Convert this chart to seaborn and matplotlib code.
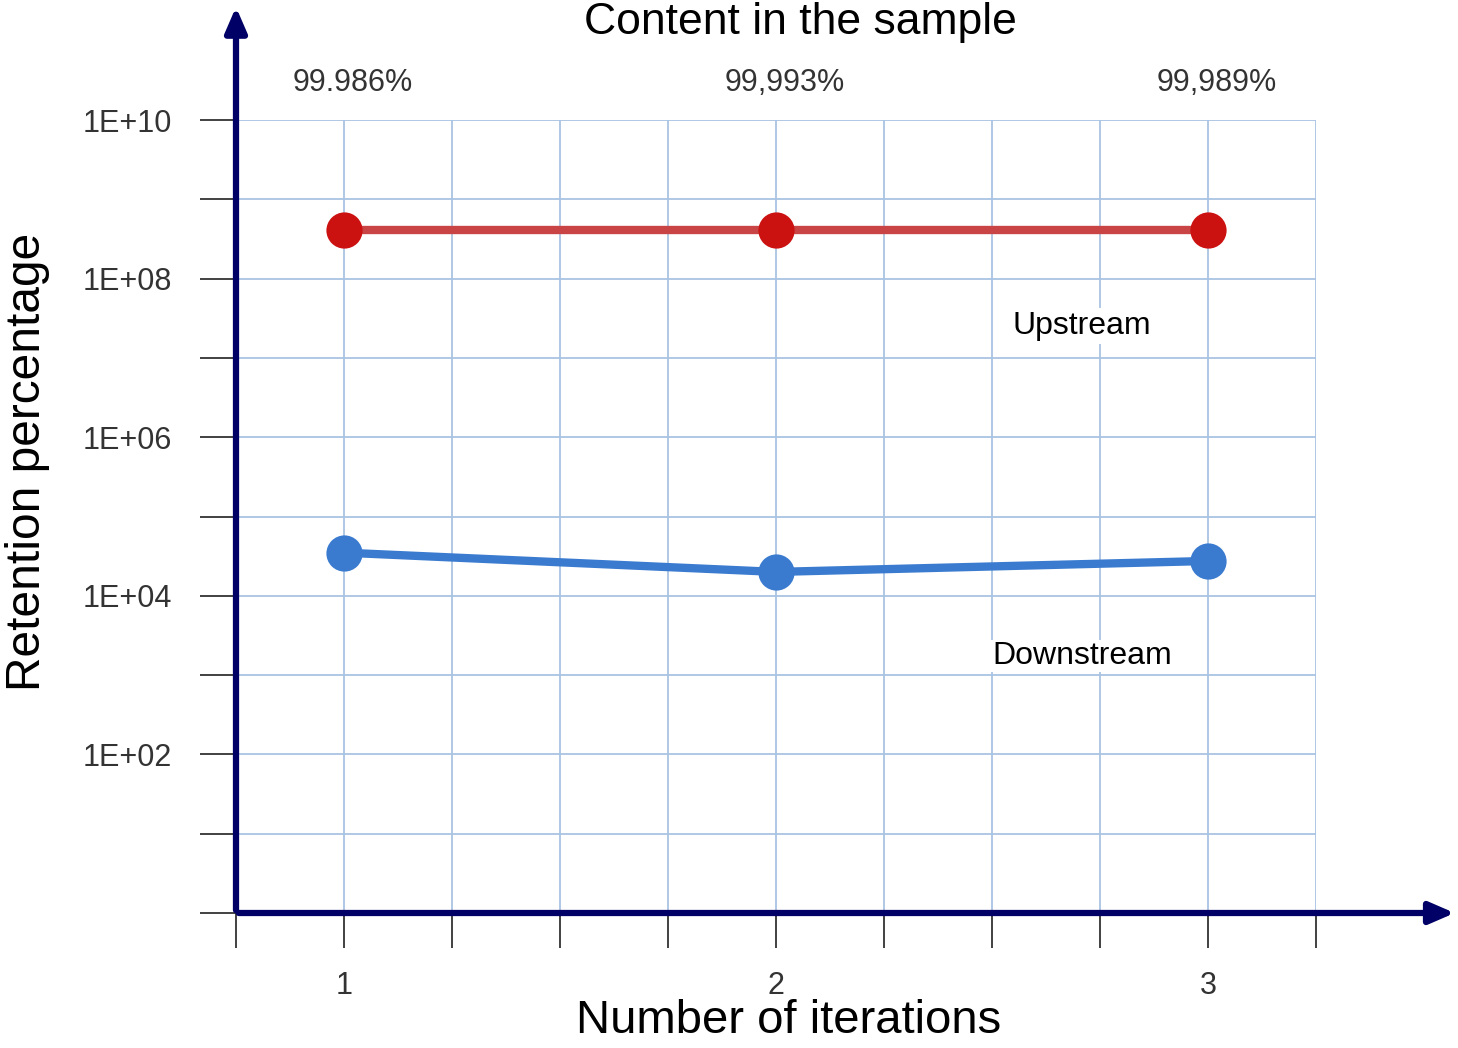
import numpy as np
import pandas as pd
import matplotlib
matplotlib.use("Agg")
import matplotlib.pyplot as plt
import seaborn as sns

# --- data ---
iterations = [1, 2, 3]
upstream = [4.1e8, 4.1e8, 4.1e8]
downstream = [3.5e4, 2.0e4, 2.75e4]
retention_labels = ["99.986%", "99,993%", "99,989%"]
ytick_values = [1e0, 1e1, 1e2, 1e3, 1e4, 1e5, 1e6, 1e7, 1e8, 1e9, 1e10]
ytick_labels = ["", "", "1E+02", "", "1E+04", "", "1E+06", "", "1E+08", "", "1E+10"]
xtick_values = [0.75, 1.0, 1.25, 1.5, 1.75, 2.0, 2.25, 2.5, 2.75, 3.0, 3.25]
xtick_labels = ["", "1", "", "", "", "2", "", "", "", "3", ""]

df = pd.DataFrame({"iteration": iterations * 2,
                   "value": upstream + downstream,
                   "series": ["Upstream"] * 3 + ["Downstream"] * 3})

sns.set_style("white")
plt.rcParams["font.family"] = ["Liberation Sans", "DejaVu Sans"]

W, H = 1458, 1048
fig = plt.figure(figsize=(W / 100, H / 100), dpi=100)
ax = fig.add_axes([236 / W, (H - 913) / H, 1080 / W, 793 / H])

sns.lineplot(data=df, x="iteration", y="value", hue="series",
             palette={"Upstream": "#c94545", "Downstream": "#3a7bd0"},
             linewidth=6, legend=False, ax=ax, zorder=3)
ax.scatter(iterations, upstream, s=680, color="#cc1111", zorder=4, linewidths=0)
ax.scatter(iterations, downstream, s=680, color="#3a7bd0", zorder=4, linewidths=0)

ax.set_yscale("log")
ax.set_xlim(0.75, 3.25)
ax.set_ylim(1, 1e10)
ax.set_yticks(ytick_values)
ax.set_yticklabels(ytick_labels)
ax.minorticks_off()
ax.set_xticks(xtick_values)
ax.set_xticklabels(xtick_labels)

ax.grid(True, color="#a9c4e2", linewidth=1.3)
ax.set_axisbelow(True)
for s in ax.spines.values():
    s.set_visible(False)

ax.tick_params(axis="y", direction="out", length=26, width=1.3, color="#333333",
               pad=20, labelsize=22, labelcolor="#333333", left=True)
ax.tick_params(axis="x", direction="out", length=25, width=1.3, color="#333333",
               pad=17, labelsize=22, labelcolor="#333333", bottom=True)

ax.set_xlabel("Number of iterations", fontsize=34, color="black")
ax.set_ylabel("Retention percentage", fontsize=34.5, color="black")
ax.xaxis.set_label_coords(0.512, -0.108)
ax.yaxis.set_label_coords(-0.172, 0.569)

# axis arrows
arrow_kw = dict(arrowstyle="-|>,head_length=1.5,head_width=0.65", color="#000066", lw=4.5)
ax.annotate("", xy=(0, 1.146), xytext=(0, 0), xycoords="axes fraction",
            arrowprops=arrow_kw, annotation_clip=False, zorder=6)
ax.annotate("", xy=(1.131, 0), xytext=(0, 0), xycoords="axes fraction",
            arrowprops=arrow_kw, annotation_clip=False, zorder=6)

# retention percentages above the plot
for x, lab in zip(iterations, retention_labels):
    ax.annotate(lab, xy=(x + 0.02, 1.047), xycoords=("data", "axes fraction"),
                ha="center", va="center", fontsize=22, color="#333333",
                annotation_clip=False)

# series labels
ax.text(2.708, 10 ** 7.40, "Upstream", ha="center", va="center", fontsize=23,
        color="black", bbox=dict(facecolor="white", edgecolor="none", pad=2), zorder=5)
ax.text(2.708, 10 ** 3.24, "Downstream", ha="center", va="center", fontsize=23,
        color="black", bbox=dict(facecolor="white", edgecolor="none", pad=1), zorder=5)

fig.text(800 / W, 1 - 2 / H, "Content in the sample", ha="center", va="top",
         fontsize=32, color="black")

fig.savefig("out.png", dpi=100)
